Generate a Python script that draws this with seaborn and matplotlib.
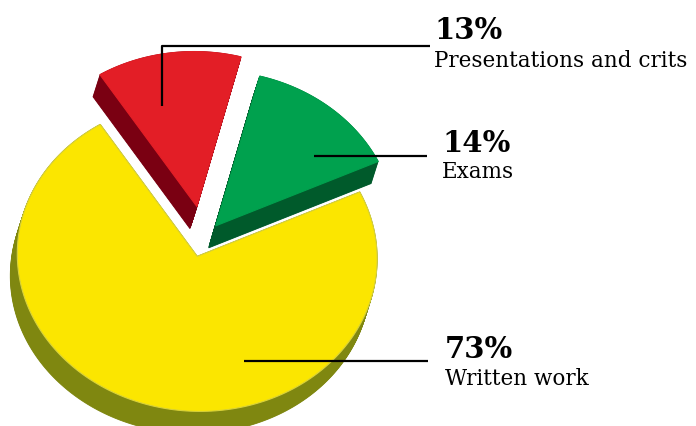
import numpy as np
import matplotlib.pyplot as plt
import seaborn as sns
from matplotlib.patches import Polygon

# data
labels = ['Written work', 'Exams', 'Presentations and crits']
shares = [73, 14, 13]
pct_labels = ['73%', '14%', '13%']

# style
top_colors = ['#fbe600', '#00a14e', '#e31e26']
side_colors = ['#7f8710', '#005a2b', '#7a0012']
edge_colors = ['#d9d23a', '#00a14e', '#e31e26']
explode_px = [21, 20, 38]

sns.set_style('white')
plt.rcParams['font.family'] = ['DejaVu Serif']

fig = plt.figure(figsize=(6.96, 4.27), dpi=100)
ax = fig.add_axes([0, 0, 1, 1])
ax.set_xlim(0, 696)
ax.set_ylim(427, 0)
ax.axis('off')

# pie geometry in pixel units (y down)
cx, cy = 203, 240
rx, ry = 180, 155
tilt = np.deg2rad(-3)
depth = np.array([-7, 22])
start = 388.0  # yellow ends here; slices follow clockwise


def to_xy(t, r=1.0):
    x = r * rx * np.cos(t)
    y = r * ry * np.sin(t)
    xr = x * np.cos(tilt) - y * np.sin(tilt)
    yr = x * np.sin(tilt) + y * np.cos(tilt)
    return np.column_stack([xr, -yr])


spans = np.array(shares) / np.sum(shares) * 360
# clockwise order: written work, presentations, exams
bounds = {}
a_end = start
for i in [0, 2, 1]:
    bounds[i] = (a_end - spans[i], a_end)
    a_end -= spans[i]

polys = {}
for i, (a0, a1) in bounds.items():
    mid = np.deg2rad((a0 + a1) / 2)
    off = to_xy(np.array([mid]), explode_px[i] / rx)[0]
    tip = np.array([cx, cy]) + off
    ts = np.deg2rad(np.linspace(a0, a1, 200))
    arc = to_xy(ts) + tip
    polys[i] = np.vstack([tip, arc])

# side walls stacked along the depth vector, then the top face
for i in [2, 1, 0]:
    pts = polys[i]
    for k in np.linspace(1, 0, 30):
        ax.add_patch(Polygon(pts + depth * k, closed=True, facecolor=side_colors[i],
                             edgecolor=side_colors[i], lw=0.6))
    ax.add_patch(Polygon(pts, closed=True, facecolor=top_colors[i],
                         edgecolor=edge_colors[i], lw=0.8))

# leader lines and labels
leaders = [
    [(244, 362), (428, 362)],
    [(314, 157), (427, 157)],
    [(162, 107), (162, 47), (430, 47)],
]
label_pos = [(445, 358, 385), (442, 152, 178), (434, 39, 67)]

for i in range(3):
    xs, ys = zip(*leaders[i])
    ax.plot(xs, ys, color='black', lw=1.6, solid_capstyle='butt')
    x, yb, yl = label_pos[i]
    ax.text(x, yb, pct_labels[i], fontsize=21, fontweight='bold',
            va='baseline', ha='left', color='black')
    ax.text(x, yl, labels[i], fontsize=15.5, va='baseline', ha='left', color='black')

fig.savefig('out.png', dpi=100)
